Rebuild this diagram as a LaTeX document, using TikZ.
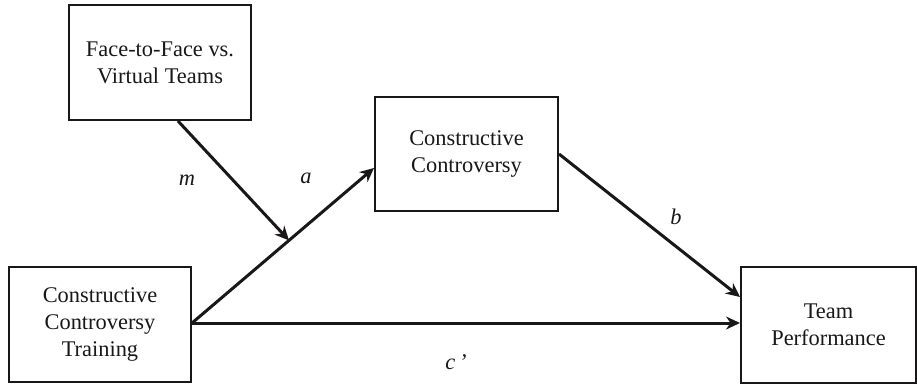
\documentclass[tikz,border=0pt]{standalone}
\usepackage{fontspec}
\setmainfont{Liberation Serif}
\usetikzlibrary{arrows.meta,calc}
\definecolor{ink}{HTML}{1A1718}
\begin{document}
\begin{tikzpicture}[x=1pt,y=-1pt,
  varbox/.style={draw=ink,line width=2pt,minimum width=182pt,minimum height=115pt,
    align=center,inner sep=0pt,text=ink,font=\fontsize{22.4}{27}\selectfont},
  path/.style={draw=ink,line width=3pt,-{Stealth[length=14pt,width=13pt,inset=4.5pt]}},
  lab/.style={text=ink,font=\fontsize{22.4}{27}\selectfont\itshape,inner sep=0pt}]
\useasboundingbox (0,0) rectangle (917,385);
\node[varbox] (ftf) at (160,62.5) {Face-to-Face vs.\\Virtual Teams};
\node[varbox] (cct) at (100,324.5) {Constructive\\Controversy\\Training};
\node[varbox,minimum width=183pt,minimum height=114pt] (cc) at (466.5,154) {Constructive\\Controversy};
\node[varbox,minimum width=175pt,minimum height=116pt] (tp) at (828.5,325) {Team\\Performance};
\coordinate (aend) at ($(cc.west)+(0,14)$);
\coordinate (astart) at ($(cct.east)+(0,-1.5)$);
\coordinate (mstart) at ($(ftf.south)+(18,0)$);
\coordinate (mend) at ($(astart)!0.533!(aend)$);
\coordinate (bend) at ($(tp.west)+(0,-28)$);
\coordinate (cend) at ($(tp.west)+(0,-2)$);
\draw[path] (astart) -- (aend);
\draw[path] (astart) -- (cend);
\draw[path] (cc.east) -- (bend);
\draw[path] (mstart) -- (mend);
\node[lab] (m) at (187,180) {m};
\node[lab] (a) at (306,178) {a};
\node[lab] (b) at (676,217) {b};
\node[lab] (c) at (456,362) {c\,’};
\end{tikzpicture}
\end{document}
